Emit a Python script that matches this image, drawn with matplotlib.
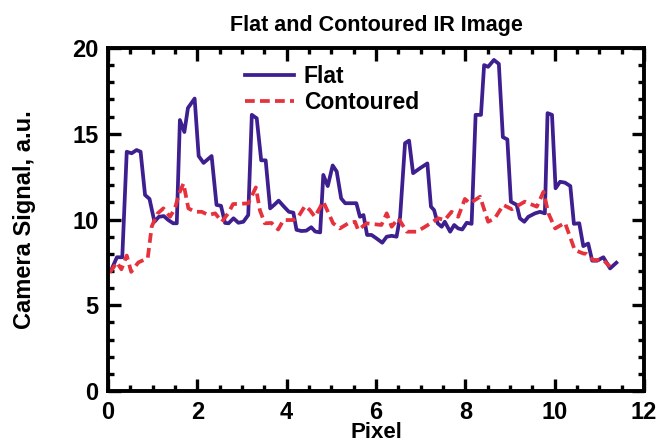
import matplotlib
matplotlib.use('Agg')
import matplotlib.pyplot as plt
from matplotlib.ticker import MultipleLocator

plt.rcParams['font.family'] = ['Liberation Sans Narrow', 'Liberation Sans', 'DejaVu Sans']
plt.rcParams['font.weight'] = 'bold'

"""
    Data read off the reference
"""
flat_x = [0.08, 0.20, 0.32, 0.42, 0.53, 0.64, 0.73, 0.83, 0.93, 1.04,
          1.14, 1.25, 1.35, 1.46, 1.54, 1.61, 1.71, 1.79, 1.94, 2.03,
          2.14, 2.32, 2.43, 2.53, 2.62, 2.70, 2.81, 2.92, 3.03, 3.14,
          3.22, 3.33, 3.43, 3.53, 3.63, 3.72, 3.82, 3.94, 4.05, 4.15,
          4.22, 4.33, 4.44, 4.55, 4.64, 4.75, 4.82, 4.92, 5.03, 5.12,
          5.22, 5.31, 5.56, 5.64, 5.72, 5.80, 5.90, 6.01, 6.14, 6.24,
          6.35, 6.46, 6.54, 6.65, 6.74, 6.83, 6.98, 7.15, 7.23, 7.30,
          7.38, 7.47, 7.54, 7.66, 7.75, 7.84, 7.93, 8.03, 8.14, 8.23,
          8.35, 8.42, 8.51, 8.64, 8.75, 8.84, 8.94, 9.02, 9.15, 9.22,
          9.32, 9.41, 9.56, 9.67, 9.78, 9.84, 9.94, 10.02, 10.12, 10.23,
          10.35, 10.43, 10.55, 10.64, 10.75, 10.84, 10.95, 11.09, 11.24, 11.38]
flat_y = [7.1, 7.8, 7.8, 13.95, 13.86, 14.05, 13.95, 11.43, 11.2, 9.87,
          10.16, 10.2, 9.97, 9.78, 9.78, 15.8, 15.1, 16.5, 17.05, 13.7,
          13.3, 13.7, 10.85, 10.8, 9.8, 9.78, 10.07, 9.81, 9.87, 10.26,
          16.1, 15.9, 13.45, 13.45, 10.65, 10.85, 11.1, 10.75, 10.45, 10.4,
          9.4, 9.33, 9.35, 9.55, 9.3, 9.25, 12.6, 11.95, 13.15, 12.8,
          11.23, 10.95, 10.95, 10.16, 10.26, 9.1, 9.1, 8.9, 8.65, 9.0,
          9.05, 9.0, 10.16, 14.45, 14.6, 12.7, 12.98, 13.27, 10.75, 10.55,
          9.78, 9.58, 9.87, 9.29, 9.68, 9.48, 9.42, 9.81, 9.75, 16.1,
          16.1, 19.0, 18.9, 19.3, 19.07, 14.8, 14.67, 11.04, 10.85, 10.07,
          9.87, 10.16, 10.36, 10.45, 10.36, 16.2, 16.1, 11.82, 12.2, 12.15,
          11.95, 9.75, 9.78, 8.45, 8.6, 7.6, 7.6, 7.8, 7.15, 7.48]

cont_x = [0.04, 0.20, 0.30, 0.42, 0.52, 0.68, 0.89, 0.98, 1.11, 1.24,
          1.39, 1.50, 1.59, 1.69, 1.80, 1.95, 2.10, 2.25, 2.40, 2.55,
          2.69, 2.80, 3.14, 3.31, 3.40, 3.51, 3.66, 3.81, 3.93, 4.15,
          4.26, 4.41, 4.52, 4.63, 4.82, 5.04, 5.19, 5.38, 5.53, 5.60,
          5.79, 6.12, 6.24, 6.35, 6.50, 6.69, 6.91, 7.10, 7.39, 7.54,
          7.69, 7.84, 7.99, 8.10, 8.33, 8.51, 8.66, 8.85, 9.04, 9.33,
          9.60, 9.75, 9.86, 10.01, 10.23, 10.37, 10.45, 10.64, 10.71, 10.86,
          11.09, 11.24]
cont_y = [6.9, 7.5, 7.1, 7.9, 6.95, 7.5, 7.75, 9.6, 10.35, 10.65,
          10.16, 10.65, 11.5, 12.1, 10.65, 10.45, 10.45, 10.26, 10.36, 9.87,
          10.36, 10.9, 10.94, 11.87, 10.55, 9.78, 9.8, 9.42, 9.97, 9.97,
          10.16, 10.79, 10.55, 10.16, 11.04, 9.78, 9.48, 9.78, 9.87, 9.39,
          9.78, 9.68, 10.36, 9.58, 10.07, 9.29, 9.29, 9.58, 10.07, 9.97,
          10.45, 10.16, 11.2, 10.94, 11.33, 9.87, 10.07, 10.85, 10.6, 11.04,
          10.75, 11.62, 10.36, 9.48, 9.81, 8.8, 8.22, 8.02, 8.0, 7.64,
          7.64, 7.25]

"""
    Chart
"""
fig = plt.figure(figsize=(6.6, 4.48), dpi=100)
ax = fig.add_axes([0.1636, 0.127, 0.8122, 0.766])

ax.plot(flat_x, flat_y, color='#3d1f8f', lw=2.7, label='Flat')
ax.plot(cont_x, cont_y, color='#e5323c', lw=2.7, dashes=(2.6, 1.4), label='Contoured')

ax.set_xlim(0, 12)
ax.set_ylim(0, 20)
ax.xaxis.set_major_locator(MultipleLocator(2))
ax.xaxis.set_minor_locator(MultipleLocator(0.5))
ax.yaxis.set_major_locator(MultipleLocator(5))
ax.yaxis.set_minor_locator(MultipleLocator(1))
ax.tick_params(which='both', direction='in', top=True, right=True, width=2.4)
ax.tick_params(which='major', length=9, labelsize=17, pad=7)
ax.tick_params(which='minor', length=4.5)
for s in ax.spines.values():
    s.set_linewidth(2.8)

ax.set_title('Flat and Contoured IR Image', fontsize=15.5, fontweight='bold', pad=12)
ax.set_xlabel('Pixel', fontsize=16, fontweight='bold', labelpad=-1)
ax.set_ylabel('Camera Signal, a.u.', fontsize=17, fontweight='bold', labelpad=26)

leg = ax.legend(loc='upper left', bbox_to_anchor=(0.235, 0.985), frameon=False,
                fontsize=16.5, handlelength=2.1, handletextpad=0.45,
                labelspacing=0.15, borderaxespad=0.1)

fig.savefig('out.png', dpi=100)
